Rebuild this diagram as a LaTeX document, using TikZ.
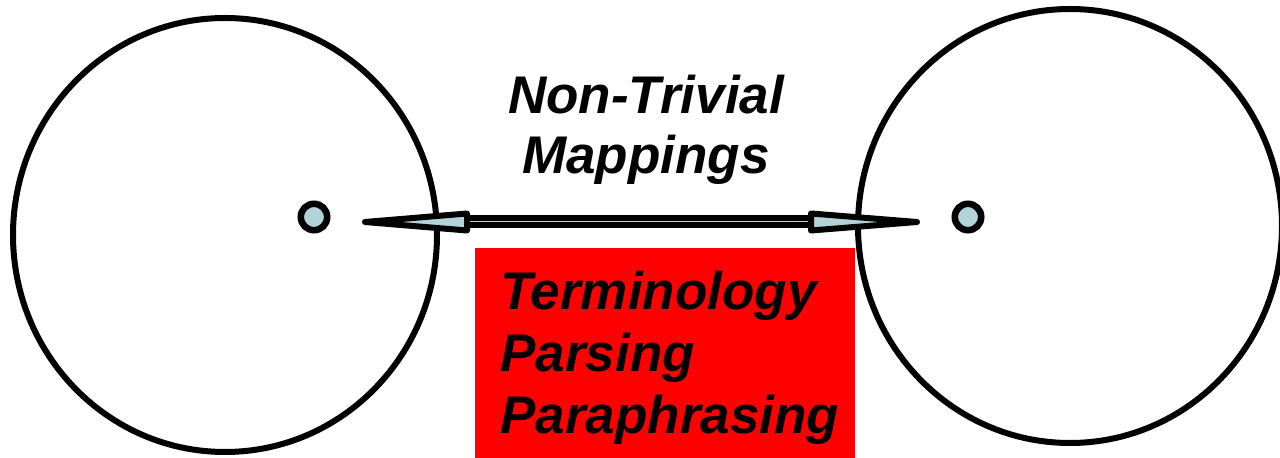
\documentclass[tikz,border=0pt]{standalone}
\usepackage{fontspec}
\setmainfont{Liberation Sans}
\usetikzlibrary{shapes.geometric, arrows.meta, positioning}
\definecolor{pointfill}{RGB}{178,212,216}
\definecolor{boxred}{RGB}{255,0,0}

\begin{document}
\begin{tikzpicture}[
  x=0.5pt, y=-0.5pt,
  space/.style={ellipse, draw, line width=3pt,
    minimum width=212pt, minimum height=217pt, inner sep=0pt},
  point/.style={circle, draw, fill=pointfill, line width=3.3pt,
    minimum size=13.2pt, inner sep=0pt},
  mapshaft/.style={line width=3pt, double=pointfill, double distance=0.5pt},
  maphead/.style={draw, fill=pointfill, line width=3pt, line join=round},
  methods/.style={rectangle, fill=boxred, inner sep=0pt,
    minimum width=190pt, minimum height=112pt},
  heading/.style={font=\fontsize{26.5}{30}\selectfont\bfseries\itshape,
    inner sep=0pt},
  listing/.style={font=\fontsize{26.5}{31}\selectfont\bfseries\itshape,
    align=left, inner sep=0pt}
]
\useasboundingbox (0,0) rectangle (1280,458);

% Two spaces with one point each
\node[space] (srcspace) at (225,235) {};
\node[space] (tgtspace) at (1070,226) {};
\node[point] (srcpt) at (314,217) {};
\node[point] (tgtpt) at (968,217) {};

% Mapping between the points: doubled shaft, filled heads
\coordinate (srctip) at (365,222);
\coordinate (tgttip) at (917,222);
\coordinate (srcbase) at (467,222);
\coordinate (tgtbase) at (811,222);
\draw[mapshaft] (srcbase) -- (tgtbase);
\draw[maphead] (srctip) -- ([yshift=4.25pt]srcbase)
  -- ([yshift=-4.25pt]srcbase) -- cycle;
\draw[maphead] (tgttip) -- ([yshift=4.25pt]tgtbase)
  -- ([yshift=-4.25pt]tgtbase) -- cycle;

\node[heading, align=center, anchor=north] (maplabel) at (646,75)
  {Non-Trivial\\Mappings};

% What the mapping needs
\node[methods, anchor=north west] (methods) at (475,248) {};
\node[listing, below right=11.5pt and 12.5pt of methods.north west]
  (methodlist) {Terminology\\Parsing\\Paraphrasing};
\end{tikzpicture}
\end{document}
